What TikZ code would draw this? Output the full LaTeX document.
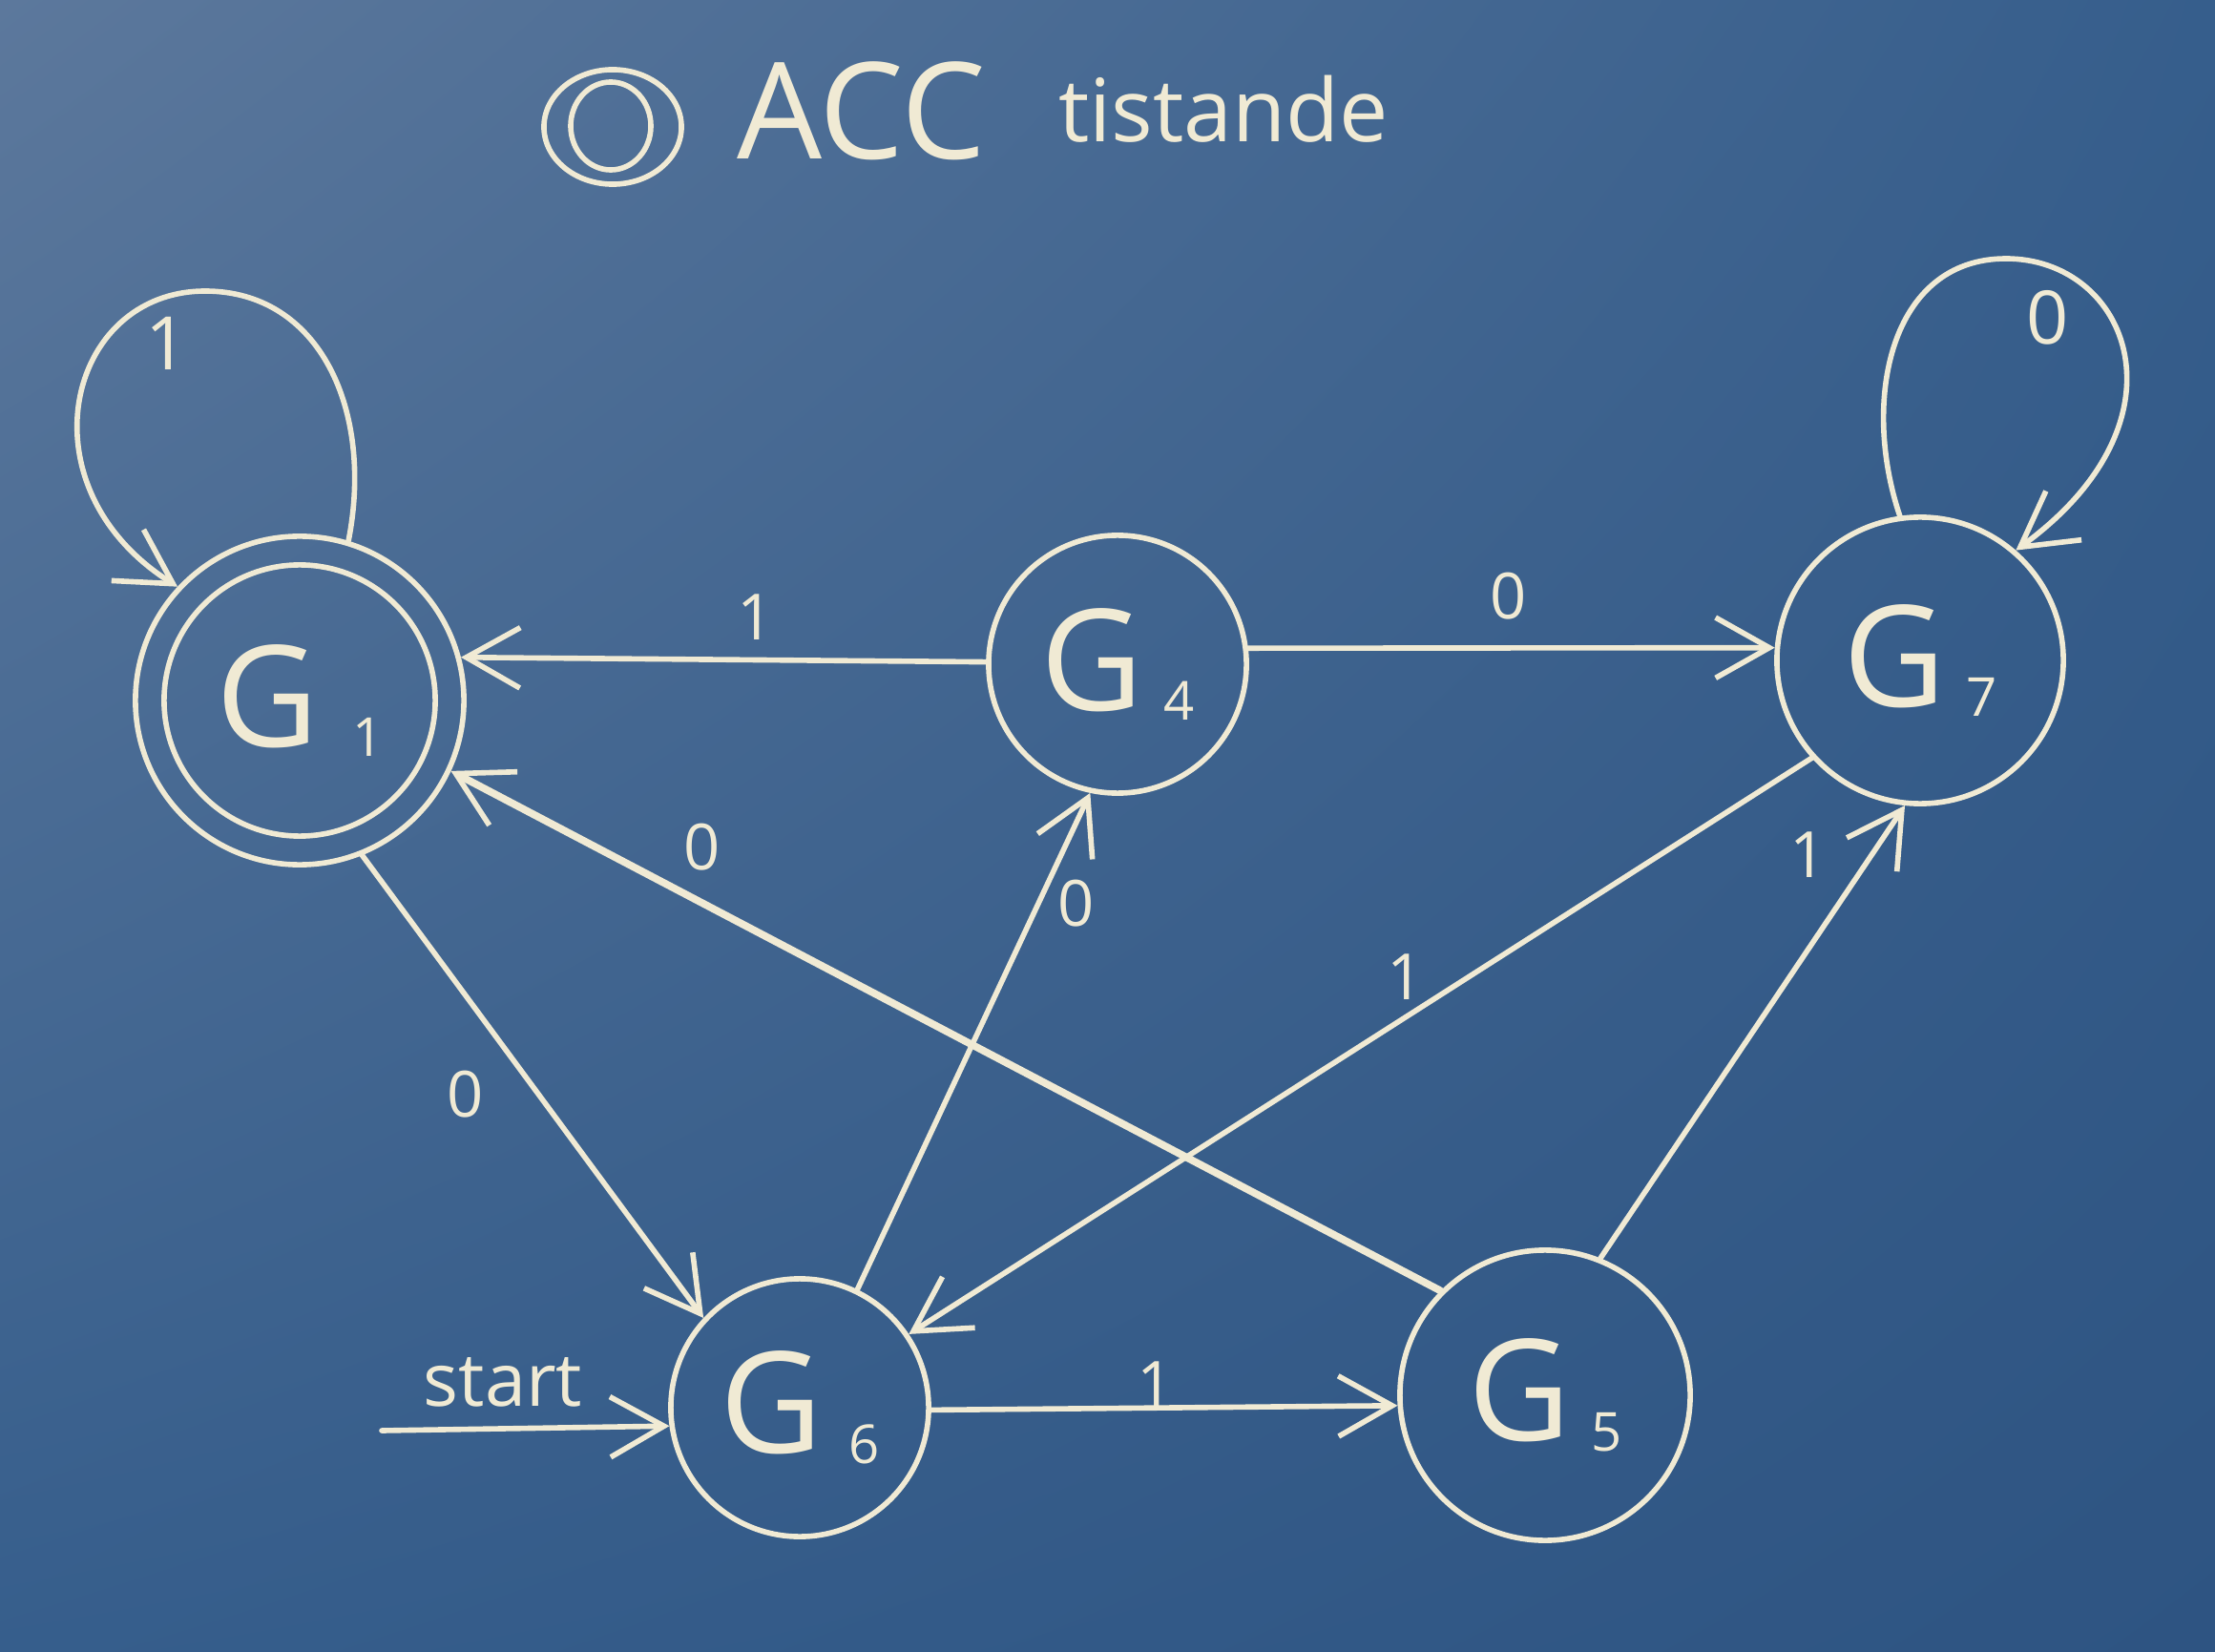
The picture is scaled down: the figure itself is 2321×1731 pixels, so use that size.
\documentclass[tikz,border=0pt]{standalone}
\usepackage{fontspec}
\setmainfont{Open Sans}
\usetikzlibrary{arrows.meta,shadings}
\definecolor{board}{RGB}{54,94,140}
\definecolor{boardlt}{RGB}{92,120,156}
\definecolor{boarddk}{RGB}{46,84,130}
\definecolor{chalk}{RGB}{240,234,212}
\newcommand\gname[2]{{\fontsize{42}{42}\selectfont G}\hspace{#2}\raisebox{-3pt}{\fontsize{16}{16}\selectfont #1}}
\tikzset{
  chalkline/.style={draw=chalk, line width=1.6pt, line cap=round, line join=round},
  state/.style={chalkline, circle, inner sep=0pt, text=chalk},
  arr/.style={chalkline, -{Straight Barb[length=16pt,width=18pt,line width=1.6pt]}},
  lbl/.style={text=chalk, font=\fontsize{19}{19}\selectfont, inner sep=0pt}
}
\begin{document}
\begin{tikzpicture}[x=0.01cm,y=-0.01cm]
\useasboundingbox (0,0) rectangle (2321,1731);
\fill[board] (0,0) rectangle (2321,1731);
\shade[upper left=boardlt, upper right=board, lower left=board, lower right=boarddk] (0,0) rectangle (2321,1731);

% title
\draw[chalkline] (642,133) ellipse [x radius=0.72cm, y radius=0.60cm];
\draw[chalkline] (640,132) ellipse [x radius=0.42cm, y radius=0.46cm];
\node[text=chalk, font=\fontsize{40}{40}\selectfont] (acc) at (903,116) {ACC};
\node[text=chalk, font=\fontsize{26}{26}\selectfont] (tis) at (1282,114) {tistande};

% states
\node[state, minimum size=3.44cm] (G1) at (314,734) {\gname{1}{10pt}};
\draw[chalkline] (G1.center) circle[radius=1.42cm];
\node[state, minimum size=2.7cm] (G4) at (1171,696) {\gname{4}{6pt}};
\node[state, minimum size=3.0cm] (G7) at (2012,692) {\gname{7}{6pt}};
\node[state, minimum size=2.7cm] (G6) at (838,1475) {\gname{6}{8pt}};
\node[state, minimum size=3.04cm] (G5) at (1619,1462) {\gname{5}{6pt}};

% transitions
\draw[arr] (G4.179) -- (G1.15);
\draw[arr] (G4.7) -- (G7.175);
\draw[arr, line width=2.2pt] (G5.135) -- (G1.335);
\draw[arr] (G1.292) -- (G6.137);
\draw[arr] (G6.64) -- (G4.258);
\draw[arr] (G7.222) -- (G6.34);
\draw[arr] (G5.68) -- (G7.264);
\draw[arr] (G6.359) -- (G5.184);
\coordinate (s0) at (400,1499);
\draw[arr] (s0) -- (G6.188);

% self loops
\coordinate (lp1) at (215,305);
\draw[arr] (G1.73) .. controls (392,430) and (335,305) .. (lp1)
  .. controls (70,305) and (20,510) .. (G1.137);
\coordinate (lp7) at (2102,271);
\draw[arr] (G7.98) .. controls (1950,420) and (1980,271) .. (lp7)
  .. controls (2230,271) and (2300,440) .. (G7.49);

% labels
\node[lbl] (l41) at (792,647) {1};
\node[lbl] (l47) at (1581,625) {0};
\node[lbl] (l51) at (736,888) {0};
\node[lbl] (l16) at (488,1147) {0};
\node[lbl] (l64) at (1128,947) {0};
\node[lbl] (l76) at (1473,1024) {1};
\node[lbl] (l57) at (1895,896) {1};
\node[lbl] (l65) at (1211,1451) {1};
\node[lbl, font=\fontsize{22}{22}\selectfont] (l11) at (175,360) {1};
\node[lbl, font=\fontsize{22}{22}\selectfont] (l77) at (2146,333) {0};
\node[lbl, font=\fontsize{22}{22}\selectfont] (st) at (527,1448) {start};
\end{tikzpicture}
\end{document}
